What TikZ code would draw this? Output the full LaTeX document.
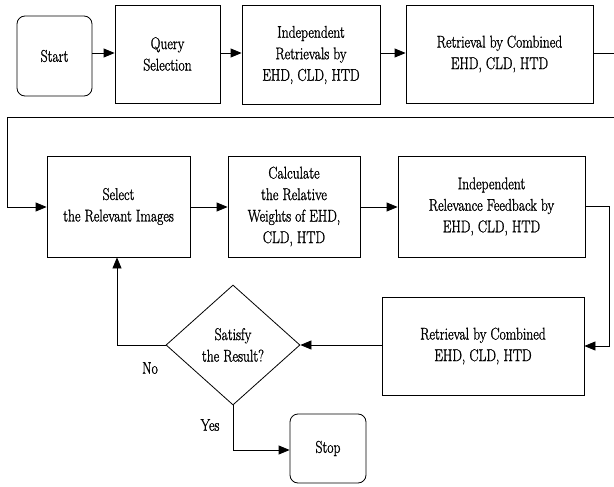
\documentclass[tikz,border=0pt]{standalone}
\usepackage{fontspec}
\newfontfamily\diagfont{Latin Modern Roman}[FakeStretch=0.8,FakeBold=1.2]
\usetikzlibrary{arrows.meta,shapes.geometric}
\begin{document}
\begin{tikzpicture}[x=1pt,y=-1pt,
  every node/.style={font=\diagfont\fontsize{17}{21.5}\selectfont},
  box/.style={draw,line width=0.8pt,align=center,inner sep=0pt},
  rbox/.style={box,rounded corners=8pt},
  diam/.style={draw,line width=0.8pt,diamond,inner sep=0pt,minimum width=134pt,minimum height=120pt},
  arr/.style={line width=0.8pt,-{Triangle[length=11pt,width=9pt]}},
  ln/.style={line width=0.8pt}]
\useasboundingbox (0,0) rectangle (614,487);
\node[rbox,minimum width=75pt,minimum height=80pt] (start) at (54.5,56) {Start};
\node[box,minimum width=105pt,minimum height=98pt] (query) at (167.5,54) {Query\\Selection};
\node[box,minimum width=138pt,minimum height=99pt] (indep) at (311,55) {Independent\\Retrievals by\\EHD, CLD, HTD};
\node[box,minimum width=187pt,minimum height=98pt] (ret1) at (499.5,54) {Retrieval by Combined\\EHD, CLD, HTD};
\node[box,minimum width=143pt,minimum height=101pt] (select) at (118.5,206.5) {Select\\the Relevant Images};
\node[box,minimum width=132pt,minimum height=101pt] (calc) at (294,206.5) {Calculate\\the Relative\\Weights of EHD,\\CLD, HTD};
\node[box,minimum width=187pt,minimum height=101pt] (indrel) at (491.5,206.5) {Independent\\Relevance Feedback by\\EHD, CLD, HTD};
\node[box,minimum width=202pt,minimum height=98pt] (ret2) at (483,346) {Retrieval by Combined\\EHD, CLD, HTD};
\node[diam] (dec) at (233,345) {};
\node[align=center,inner sep=0pt] (dectext) at (233,345) {Satisfy\\the Result?};
\node[rbox,minimum width=76pt,minimum height=69pt] (stop) at (328,448.5) {Stop};
\node[inner sep=0pt] (no) at (150,368) {No};
\node[inner sep=0pt] (yes) at (210,425) {Yes};
\coordinate (r1) at (614,53);
\coordinate (r2) at (614,117);
\coordinate (l1) at (7,117);
\coordinate (l2) at (7,207);
\coordinate (rr1) at (609,206);
\coordinate (rr2) at (609,346);
\coordinate (nn) at (117,345);
\coordinate (yy) at (233,450);
\draw[arr] (start.east |- 0,53) -- (query.west |- 0,53);
\draw[arr] (query.east |- 0,53) -- (indep.west |- 0,53);
\draw[arr] (indep.east |- 0,53) -- (ret1.west |- 0,53);
\draw[ln] (ret1.east |- r1) -- (r1);
\draw[arr] (r2) -- (l1) -- (l2) -- (select.west |- l2);
\draw[arr] (select.east |- 0,207) -- (calc.west |- 0,207);
\draw[arr] (calc.east |- 0,207) -- (indrel.west |- 0,207);
\draw[arr] (indrel.east |- rr1) -- (rr1) -- (rr2) -- (ret2.east |- rr2);
\draw[arr] (ret2.west |- dec.east) -- (dec.east);
\draw[arr] (dec.west) -- (nn) -- (nn |- select.south);
\draw[arr] (dec.south) -- (yy) -- (stop.west |- yy);
\end{tikzpicture}
\end{document}
